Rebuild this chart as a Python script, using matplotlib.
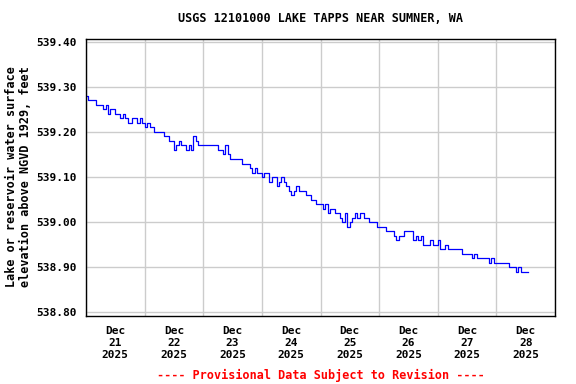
import numpy as np
import pandas as pd
import matplotlib
matplotlib.use("Agg")
import matplotlib.pyplot as plt
import matplotlib.dates as mdates

# hourly gage-height readings (ft, NGVD 1929), starting Dec 21 2025 00:00
start = "2025-12-21 00:00"
elev = [
    539.28, 539.27, 539.27, 539.27, 539.26, 539.26, 539.26, 539.25, 539.26, 539.24,
    539.25, 539.25, 539.24, 539.24, 539.23, 539.24, 539.23, 539.22, 539.22, 539.23,
    539.23, 539.22, 539.23, 539.22, 539.21, 539.22, 539.21, 539.21, 539.20, 539.20,
    539.20, 539.20, 539.19, 539.19, 539.18, 539.18, 539.16, 539.17, 539.18, 539.17,
    539.17, 539.16, 539.17, 539.16, 539.19, 539.18, 539.17, 539.17, 539.17, 539.17,
    539.17, 539.17, 539.17, 539.17, 539.16, 539.16, 539.15, 539.17, 539.15, 539.14,
    539.14, 539.14, 539.14, 539.14, 539.13, 539.13, 539.13, 539.12, 539.11, 539.12,
    539.11, 539.11, 539.10, 539.11, 539.11, 539.09, 539.10, 539.10, 539.08, 539.09,
    539.10, 539.09, 539.08, 539.07, 539.06, 539.07, 539.08, 539.07, 539.07, 539.07,
    539.06, 539.06, 539.05, 539.05, 539.04, 539.04, 539.04, 539.03, 539.04, 539.02,
    539.03, 539.03, 539.02, 539.02, 539.01, 539.00, 539.02, 538.99, 539.00, 539.01,
    539.02, 539.01, 539.02, 539.02, 539.01, 539.01, 539.00, 539.00, 539.00, 538.99,
    538.99, 538.99, 538.99, 538.98, 538.98, 538.98, 538.97, 538.96, 538.97, 538.97,
    538.98, 538.98, 538.98, 538.98, 538.96, 538.97, 538.96, 538.97, 538.95, 538.95,
    538.95, 538.96, 538.95, 538.95, 538.96, 538.94, 538.94, 538.95, 538.94, 538.94,
    538.94, 538.94, 538.94, 538.94, 538.93, 538.93, 538.93, 538.93, 538.92, 538.93,
    538.92, 538.92, 538.92, 538.92, 538.92, 538.91, 538.92, 538.91, 538.91, 538.91,
    538.91, 538.91, 538.91, 538.90, 538.90, 538.90, 538.89, 538.90, 538.89, 538.89,
    538.89, 538.89,
]
times = pd.date_range(start, periods=len(elev), freq="h")
day_labels = ["Dec\n21\n2025", "Dec\n22\n2025", "Dec\n23\n2025", "Dec\n24\n2025",
              "Dec\n25\n2025", "Dec\n26\n2025", "Dec\n27\n2025", "Dec\n28\n2025"]
yticks = [538.80, 538.90, 539.00, 539.10, 539.20, 539.30, 539.40]

mono = ["DejaVu Sans Mono"]
fig = plt.figure(figsize=(5.76, 3.84), dpi=100)
ax = fig.add_axes([86/576, 1-316/384, (555-86)/576, (316-39)/384])

ax.plot(times, elev, color="#0000ff", lw=0.9, drawstyle="steps-post")

x0 = pd.Timestamp("2025-12-21")
ax.set_xlim(x0, x0 + pd.Timedelta(days=8))
ax.set_ylim(538.792, 539.406)

ax.set_xticks(pd.date_range(x0, periods=9, freq="D"), minor=False)
ax.set_xticklabels([])
ax.set_xticks(pd.date_range(x0 + pd.Timedelta(hours=12), periods=8, freq="D"), minor=True)
ax.set_xticklabels(day_labels, minor=True, family=mono, fontweight="bold",
                   fontsize=8, linespacing=1.25)
ax.set_yticks(yticks)
ax.set_yticklabels([f"{v:.2f}" for v in yticks], family=mono, fontweight="bold", fontsize=8)
ax.tick_params(which="both", length=0)
ax.tick_params(axis="x", which="minor", pad=7)
ax.tick_params(axis="y", pad=7)

ax.grid(True, which="major", color="#cccccc", lw=1.0)
ax.set_axisbelow(True)
for s in ax.spines.values():
    s.set_color("black"); s.set_linewidth(1.0)

cx = (86 + 555) / 2 / 576
fig.text(cx, 1-19/384, "USGS 12101000 LAKE TAPPS NEAR SUMNER, WA", ha="center", va="center",
         family=mono, fontweight="bold", fontsize=8.5)
fig.text(19/576, 1-177/384, "Lake or reservoir water surface\nelevation above NGVD 1929, feet",
         rotation=90, ha="center", va="center", family=mono, fontweight="bold",
         fontsize=8.5, linespacing=1.1)
fig.text(cx, 1-375/384, "---- Provisional Data Subject to Revision ----", ha="center",
         va="center", color="red", family=mono, fontweight="bold", fontsize=8.5)

fig.savefig("out.png", dpi=100)
